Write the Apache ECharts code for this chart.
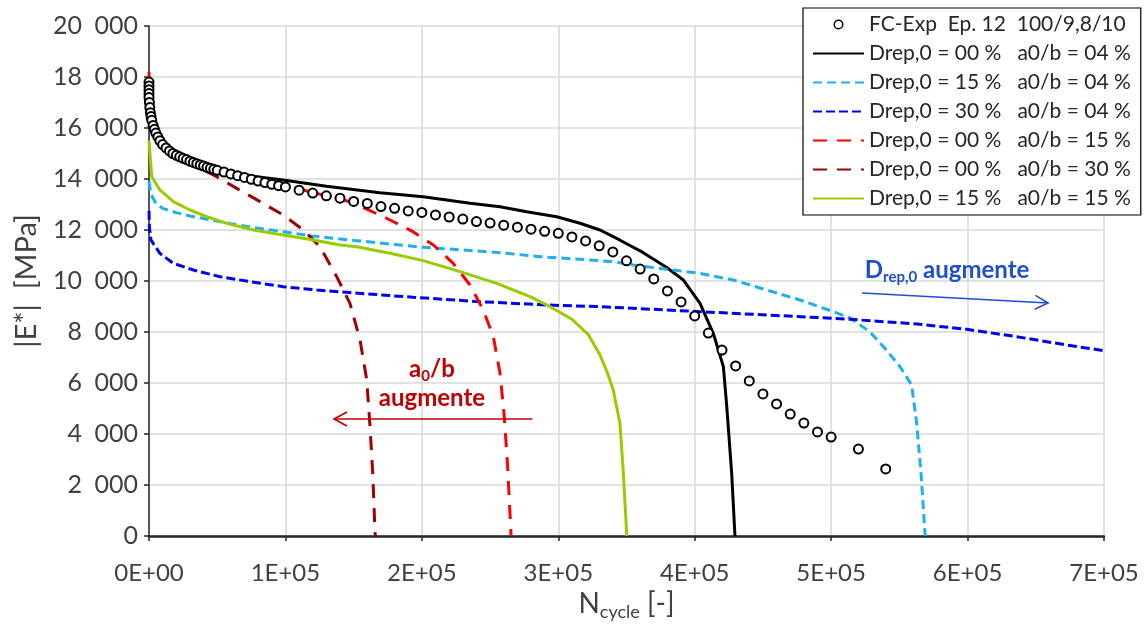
<!DOCTYPE html>
<html><head><meta charset="utf-8">
<script src="https://cdn.jsdelivr.net/npm/echarts@6/dist/echarts.min.js"></script>
<style>html,body{margin:0;padding:0;background:#fff}#c{width:1146px;height:633px}</style>
</head><body><div id="c"></div>
<script>
const FONT = 'Lato, "Noto Sans", sans-serif';

// ---- axis ticks ----
const xMin = 0, xMax = 700000, xStep = 100000;
const yMin = 0, yMax = 20000, yStep = 2000;

// ---- legend names ----
const names = [
  'FC-Exp  Ep. 12  100/9,8/10',
  'Drep,0 = 00 %   a0/b = 04 %',
  'Drep,0 = 15 %   a0/b = 04 %',
  'Drep,0 = 30 %   a0/b = 04 %',
  'Drep,0 = 00 %   a0/b = 15 %',
  'Drep,0 = 00 %   a0/b = 30 %',
  'Drep,0 = 15 %   a0/b = 15 %'
];

// ---- experimental points (N, |E*|) ----
const expN = [0,0,0,0,0,300,600,1000,1500,2000,3000,4000,5000,6500,8000,10000,12500,15000,17500,20000,22500,25000,27500,30000,32500,35000,37500,40000,42500,45000,47500,50000,55000,60000,65000,70000,75000,80000,85000,90000,95000,100000,110000,120000,130000,140000,150000,160000,170000,180000,190000,200000,210000,220000,230000,240000,250000,260000,270000,280000,290000,300000,310000,320000,330000,340000,350000,360000,370000,380000,390000,400000,410000,420000,430000,440000,450000,460000,470000,480000,490000,500000,520000,540000];
const expE = [17800,17650,17500,17350,17200,17000,16800,16600,16450,16300,16100,15950,15800,15650,15500,15350,15220,15100,15000,14930,14870,14810,14760,14700,14650,14600,14550,14510,14460,14420,14380,14340,14270,14200,14130,14060,13990,13920,13860,13790,13740,13690,13560,13450,13340,13250,13120,13040,12920,12850,12750,12690,12590,12510,12430,12330,12270,12190,12110,12030,11950,11870,11730,11570,11380,11140,10790,10470,10080,9610,9180,8630,7960,7290,6670,6080,5570,5180,4780,4430,4080,3880,3410,2630];

// ---- model curves [N, |E*|] ----
const d00a04 = [[0,17900],[500,17150],[1500,16600],[3000,16200],[8000,15530],[17800,15137],[30000,14824],[42300,14549],[57000,14286],[79000,14090],[98200,13961],[130000,13720],[169300,13463],[201000,13306],[235300,13047],[257300,12914],[276800,12718],[298800,12522],[315900,12263],[330600,12000],[345300,11600],[362000,11120],[379500,10530],[391700,10039],[403900,9124],[413600,7949],[421000,6640],[423500,5071],[427100,2458],[429500,0]];
const d15a04 = [[0,13900],[1500,13400],[5000,13050],[10000,12850],[20000,12680],[30000,12550],[45000,12400],[60000,12250],[76500,12100],[98400,11935],[120400,11760],[137600,11660],[152200,11582],[176700,11451],[201000,11321],[230400,11216],[257300,11111],[286600,10954],[315900,10850],[330000,10800],[342800,10740],[355000,10630],[379500,10458],[403900,10300],[428300,10039],[452800,9647],[477200,9255],[501600,8797],[514000,8550],[528500,8000],[538300,7424],[550500,6640],[559000,5922],[562700,4418],[565700,2588],[568800,105],[569200,0]];
const d30a04 = [[0,12750],[300,12100],[1500,11600],[8000,11085],[17800,10693],[32500,10431],[52000,10169],[74000,9974],[98400,9778],[122900,9647],[144900,9556],[193700,9360],[242600,9190],[291500,9059],[330600,8993],[403900,8797],[452800,8667],[501600,8536],[514000,8497],[562700,8314],[599400,8105],[636000,7817],[672600,7490],[700000,7268]];
const d00a15 = [[0,18200],[500,17200],[1500,16500],[3000,16050],[8000,15450],[18000,15000],[30000,14650],[45000,14350],[60000,14150],[80000,13950],[103400,13700],[127500,13373],[147300,13111],[162000,12758],[176700,12392],[193500,11935],[208400,11412],[223000,10693],[235300,9843],[245000,8863],[252400,7817],[257300,6379],[260200,4811],[262600,2980],[265100,366],[265400,0]];
const d00a30 = [[0,17900],[1000,16700],[3000,16050],[8000,15400],[18000,14950],[30000,14600],[40000,14350],[49600,14090],[64300,13634],[81400,13111],[98400,12588],[113100,12000],[125300,11346],[137600,10169],[147300,9124],[154700,7686],[159600,6118],[162000,4287],[164000,2458],[165700,105],[166000,0]];
const d15a15 = [[0,15500],[700,15000],[2000,14090],[8000,13569],[17800,13111],[30000,12784],[42300,12522],[57000,12261],[76500,12000],[98400,11804],[120400,11608],[140000,11412],[152200,11346],[176700,11085],[201000,10800],[230400,10330],[254800,9909],[279300,9386],[294000,8993],[310000,8500],[322000,7900],[330600,7098],[336000,6400],[340300,5725],[345200,4418],[347700,2458],[350200,0]];

// ---- annotations (data coordinates) ----
const annotA = {line1: [207400, 6550], line2: [207400, 5400], from: [281000, 4588], to: [135600, 4588]};
const annotD = {text: [585000, 10430], from: [522600, 9529], to: [659000, 9137]};

const expData = expN.map((n, i) => [n, expE[i]]);

function lineSeries(name, data, color, type) {
  return {
    name, type: 'line', data, symbol: 'none', z: 2,
    lineStyle: {color, width: 3, type: type || 'solid', cap: 'butt'},
    itemStyle: {color}, animation: false
  };
}

const chart = echarts.init(document.getElementById('c'), null, {renderer: 'canvas'});
const fmtY = v => String(v).replace(/\B(?=(\d{3})+(?!\d))/g, '\u2002');
const fmtX = v => v === 0 ? '0E+00' : (v / 1e5) + 'E+05';
const clear = 'rgba(0,0,0,0)';
// small ring icon inside a 14x14 box (corner specks keep the box size)
const ringIcon = 'path://M0,0L0.01,0M14,14L13.99,14M12,7A5,5 0 1,0 2,7A5,5 0 1,0 12,7ZM10.5,7A3.5,3.5 0 1,1 3.5,7A3.5,3.5 0 1,1 10.5,7Z';

chart.setOption({
  animation: false,
  backgroundColor: '#fff',
  grid: {left: 149, right: 42, top: 26, bottom: 97, containLabel: false},
  xAxis: {
    type: 'value', min: xMin, max: xMax, interval: xStep,
    axisLine: {show: true, onZero: false, lineStyle: {color: '#262626', width: 2.5}},
    axisTick: {show: true, length: 5, lineStyle: {color: '#262626', width: 1.5}},
    splitLine: {show: true, lineStyle: {color: '#D9D9D9', width: 1.5}},
    axisLabel: {formatter: fmtX, fontFamily: FONT, fontSize: 24, color: '#404040', margin: 25},
    name: '{n|N}{s|cycle}{n| [-]}', nameLocation: 'middle', nameGap: 50,
    nameTextStyle: {rich: {
      n: {fontFamily: FONT, fontSize: 28, color: '#404040', lineHeight: 34, verticalAlign: 'middle'},
      s: {fontFamily: FONT, fontSize: 18, color: '#404040', lineHeight: 18, verticalAlign: 'bottom'}
    }}
  },
  yAxis: {
    type: 'value', min: yMin, max: yMax, interval: yStep,
    axisLine: {show: true, lineStyle: {color: '#262626', width: 1.5}},
    axisTick: {show: true, length: 5, lineStyle: {color: '#262626', width: 1.5}},
    splitLine: {show: true, lineStyle: {color: '#D9D9D9', width: 1.5}},
    axisLabel: {formatter: fmtY, fontFamily: FONT, fontSize: 25, color: '#404040', margin: 11},
    name: '|E*|  [MPa]', nameLocation: 'middle', nameGap: 108, nameRotate: 90,
    nameTextStyle: {fontFamily: FONT, fontSize: 29, color: '#404040'}
  },
  legend: {
    orient: 'vertical', left: 803, top: 8,
    itemWidth: 51, itemHeight: 14, itemGap: 8,
    backgroundColor: '#fff', borderColor: '#000', borderWidth: 1.2, borderRadius: 0,
    padding: [6, 10, 6, 9],
    itemStyle: {color: clear, borderColor: clear, borderWidth: 0},
    textStyle: {fontFamily: FONT, fontSize: 21, color: '#262626', lineHeight: 20},
    data: [
      {name: names[0], icon: ringIcon, itemStyle: {color: '#000', borderColor: clear, borderWidth: 0}},
      names[1], names[2], names[3], names[4], names[5], names[6]
    ]
  },
  series: [
    lineSeries(names[1], d00a04, '#000000'),
    lineSeries(names[2], d15a04, '#1DB1EC', [9, 5]),
    lineSeries(names[3], d30a04, '#0000F0', [9, 4]),
    lineSeries(names[4], d00a15, '#FF0000', [14, 10]),
    lineSeries(names[5], d00a30, '#A00000', [14, 10]),
    lineSeries(names[6], d15a15, '#99CC00'),
    {
      name: names[0], type: 'scatter', data: expData, z: 3,
      symbol: 'emptyCircle', symbolSize: 9,
      itemStyle: {color: '#000', borderWidth: 1.5, opacity: 1},
      animation: false
    }
  ]
});

// ---- annotations placed via the axes ----
function px(p) { return chart.convertToPixel({gridIndex: 0}, p); }
function arrow(from, to, color) {
  const a = px(from), b = px(to);
  const dx = b[0] - a[0], dy = b[1] - a[1];
  const L = Math.hypot(dx, dy), ux = dx / L, uy = dy / L;
  const h = 13, w = 7;
  const w1 = [b[0] - ux * h - uy * w, b[1] - uy * h + ux * w];
  const w2 = [b[0] - ux * h + uy * w, b[1] - uy * h - ux * w];
  return [
    {type: 'line', shape: {x1: a[0], y1: a[1], x2: b[0], y2: b[1]}, style: {stroke: color, lineWidth: 1.6}, z: 10},
    {type: 'polyline', shape: {points: [w1, b, w2]}, style: {stroke: color, lineWidth: 1.6, fill: null}, z: 10}
  ];
}
const red = '#C00000', blue = '#1F4FD0';
const p1 = px(annotA.line1), p2 = px(annotA.line2), pd = px(annotD.text);
chart.setOption({
  graphic: [
    {type: 'text', x: p1[0], y: p1[1], z: 10, style: {
      text: '{b|a}{s|0}{b|/b}', align: 'center', verticalAlign: 'middle',
      rich: {
        b: {fontFamily: FONT, fontSize: 24, fontWeight: 'bold', fill: red, lineHeight: 30, verticalAlign: 'middle'},
        s: {fontFamily: FONT, fontSize: 15, fontWeight: 'bold', fill: red, lineHeight: 16, verticalAlign: 'bottom'}
      }}},
    {type: 'text', x: p2[0], y: p2[1], z: 10, style: {
      text: 'augmente', align: 'center', verticalAlign: 'middle',
      fontFamily: FONT, fontSize: 24, fontWeight: 'bold', fill: red}},
    {type: 'text', x: pd[0], y: pd[1], z: 10, style: {
      text: '{b|D}{s|rep,0}{b| augmente}', align: 'center', verticalAlign: 'middle',
      rich: {
        b: {fontFamily: FONT, fontSize: 24, fontWeight: 'bold', fill: blue, lineHeight: 30, verticalAlign: 'middle'},
        s: {fontFamily: FONT, fontSize: 15, fontWeight: 'bold', fill: blue, lineHeight: 16, verticalAlign: 'bottom'}
      }}},
    ...arrow(annotA.from, annotA.to, red),
    ...arrow(annotD.from, annotD.to, blue)
  ]
});
</script>
</body></html>
